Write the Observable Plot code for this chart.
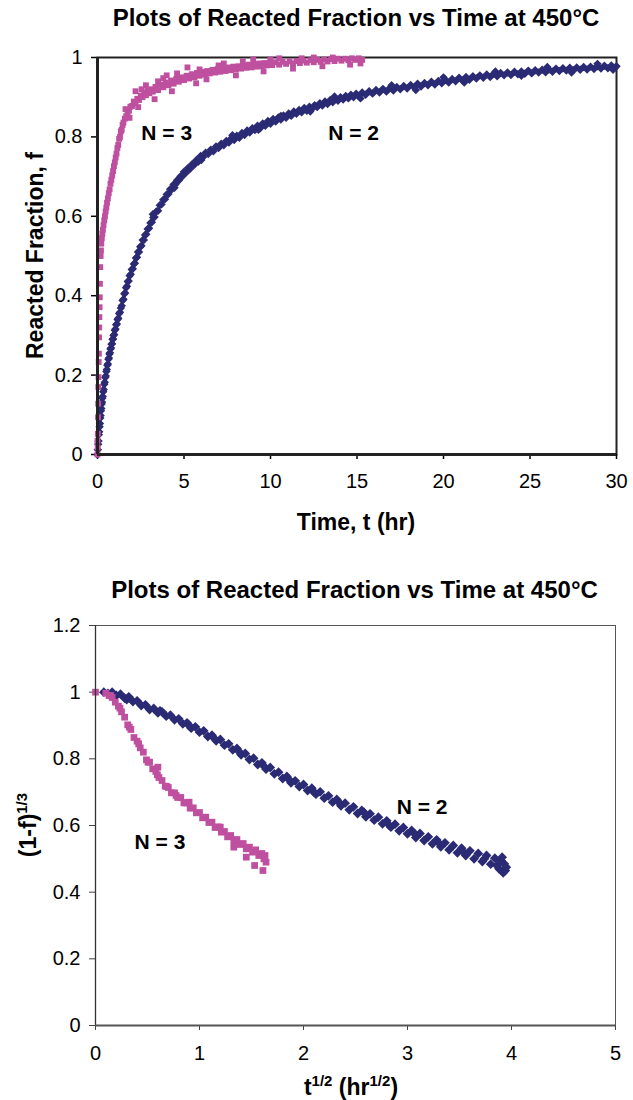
<!DOCTYPE html>
<html><head><meta charset="utf-8">
<script src="https://cdn.jsdelivr.net/npm/d3@7"></script>
<script src="https://cdn.jsdelivr.net/npm/@observablehq/plot@0.6"></script>
<style>
body{margin:0;background:#fff;font-family:Arial,"Liberation Sans",sans-serif;}
#wrap{width:633px;}
.title{font-weight:bold;font-size:24px;text-align:center;height:36px;line-height:36px;color:#000;box-sizing:border-box;width:633px;white-space:nowrap;}
svg{display:block;}
</style></head><body><div id="wrap"></div>
<script>
const titleText = "Plots of Reacted Fraction vs Time at 450°C";
const seriesNames = ["N = 2", "N = 3"];
const seriesColors = ["#2B2A74", "#BE509F"];

// Panel 1: f vs t (hr)
const xTicksTop = [0, 5, 10, 15, 20, 25, 30];
const yTicksTop = [0, 0.2, 0.4, 0.6, 0.8, 1];
const n2Top = [[0,0],[0.02,0.012],[0.04,0.026],[0.06,0.034],[0.08,0.05],[0.1,0.057],[0.12,0.07],[0.14,0.078],[0.16,0.092],[0.18,0.098],[0.2,0.11],[0.22,0.116],[0.24,0.127],[0.26,0.132],[0.28,0.142],[0.3,0.146],[0.33,0.158],[0.36,0.164],[0.39,0.177],[0.42,0.182],[0.45,0.194],[0.48,0.198],[0.51,0.209],[0.54,0.214],[0.57,0.225],[0.6,0.228],[0.63,0.24],[0.66,0.243],[0.69,0.253],[0.72,0.256],[0.75,0.266],[0.78,0.268],[0.81,0.278],[0.84,0.279],[0.87,0.29],[0.9,0.291],[0.93,0.3],[0.96,0.302],[1.0,0.313],[1.04,0.316],[1.08,0.327],[1.12,0.329],[1.16,0.34],[1.2,0.343],[1.25,0.355],[1.3,0.358],[1.35,0.369],[1.4,0.375],[1.45,0.388],[1.5,0.391],[1.55,0.405],[1.6,0.407],[1.65,0.42],[1.7,0.424],[1.75,0.436],[1.8,0.437],[1.86,0.45],[1.92,0.454],[1.98,0.466],[2.04,0.468],[2.1,0.48],[2.16,0.482],[2.22,0.495],[2.28,0.497],[2.34,0.51],[2.4,0.51],[2.47,0.523],[2.54,0.526],[2.61,0.54],[2.68,0.54],[2.75,0.553],[2.82,0.555],[2.9,0.568],[2.98,0.57],[3.06,0.583],[3.14,0.585],[3.22,0.597],[3.3,0.598],[3.4,0.612],[3.5,0.614],[3.6,0.628],[3.7,0.63],[3.8,0.642],[3.9,0.643],[4.0,0.655],[4.1,0.656],[4.2,0.668],[4.3,0.668],[4.4,0.68],[4.5,0.68],[4.6,0.691],[4.7,0.69],[4.8,0.701],[4.9,0.7],[5.0,0.712],[5.12,0.71],[5.24,0.722],[5.36,0.72],[5.48,0.732],[5.6,0.73],[5.72,0.742],[5.84,0.738],[5.96,0.752],[6.1,0.749],[6.25,0.76],[6.4,0.757],[6.55,0.768],[6.7,0.764],[6.85,0.776],[7.0,0.772],[7.15,0.783],[7.3,0.779],[7.45,0.79],[7.6,0.786],[7.75,0.797],[7.9,0.792],[8.05,0.803],[8.2,0.798],[8.35,0.81],[8.5,0.805],[8.65,0.816],[8.8,0.811],[8.95,0.822],[9.1,0.817],[9.25,0.828],[9.4,0.822],[9.55,0.834],[9.7,0.828],[9.85,0.84],[10.0,0.833],[10.15,0.845],[10.3,0.839],[10.45,0.849],[10.6,0.844],[10.75,0.854],[10.9,0.848],[11.05,0.859],[11.2,0.853],[11.35,0.864],[11.5,0.858],[11.65,0.868],[11.8,0.862],[11.95,0.873],[12.1,0.866],[12.25,0.876],[12.4,0.871],[12.55,0.88],[12.7,0.875],[12.85,0.885],[13.0,0.879],[13.15,0.889],[13.3,0.883],[13.45,0.893],[13.6,0.887],[13.75,0.896],[13.9,0.891],[14.05,0.9],[14.2,0.894],[14.35,0.903],[14.5,0.897],[14.65,0.906],[14.8,0.9],[14.95,0.909],[15.1,0.903],[15.3,0.912],[15.5,0.906],[15.7,0.915],[15.9,0.909],[16.1,0.918],[16.3,0.912],[16.5,0.921],[16.7,0.914],[16.9,0.923],[17.1,0.917],[17.3,0.926],[17.5,0.92],[17.7,0.928],[17.9,0.922],[18.1,0.931],[18.3,0.925],[18.5,0.934],[18.7,0.927],[18.9,0.936],[19.1,0.93],[19.3,0.939],[19.5,0.932],[19.7,0.941],[19.9,0.935],[20.1,0.944],[20.3,0.937],[20.5,0.946],[20.7,0.94],[20.9,0.949],[21.1,0.942],[21.3,0.951],[21.5,0.944],[21.7,0.953],[21.9,0.947],[22.1,0.955],[22.3,0.949],[22.5,0.957],[22.7,0.951],[22.9,0.959],[23.1,0.953],[23.3,0.961],[23.5,0.955],[23.7,0.962],[23.9,0.956],[24.1,0.964],[24.3,0.958],[24.5,0.965],[24.7,0.959],[24.9,0.967],[25.1,0.96],[25.3,0.968],[25.5,0.962],[25.7,0.969],[25.9,0.963],[26.1,0.97],[26.3,0.964],[26.5,0.972],[26.7,0.966],[26.9,0.973],[27.1,0.967],[27.3,0.974],[27.5,0.968],[27.7,0.975],[27.9,0.969],[28.1,0.976],[28.3,0.97],[28.5,0.977],[28.7,0.971],[28.9,0.978],[29.1,0.972],[29.3,0.979],[29.5,0.973],[29.7,0.98],[29.9,0.974],[30.0,0.978],
[3.2,0.605],[4.45,0.672],[6.0,0.742],[7.8,0.804],[9.3,0.818],[10.6,0.853],[12.3,0.864],[13.7,0.902],[15.2,0.897],[17.0,0.93],[18.4,0.918],[20.0,0.95],[21.2,0.937],[23.0,0.965],[24.5,0.954],[26.0,0.976],[27.4,0.962],[28.9,0.984],[29.8,0.969]];
const n3Top = [[0,0],[0.01,0.018],[0,0.035],[0.02,0.052],[0.03,0.094],[0.04,0.128],[0.05,0.17],[0.06,0.195],[0.07,0.233],[0.08,0.254],[0.09,0.295],[0.1,0.32],[0.11,0.346],[0.12,0.371],[0.13,0.396],[0.14,0.43],[0.16,0.472],[0.18,0.5],[0.2,0.514],[0.22,0.531],[0.25,0.545],[0.28,0.556],[0.31,0.566],[0.35,0.578],[0.39,0.59],[0.43,0.6],[0.47,0.612],[0.51,0.622],[0.55,0.634],[0.6,0.645],[0.65,0.658],[0.7,0.668],[0.75,0.682],[0.8,0.692],[0.85,0.703],[0.9,0.714],[0.95,0.726],[1.0,0.736],[1.05,0.748],[1.1,0.758],[1.15,0.772],[1.2,0.78],[1.25,0.795],[1.3,0.8],[1.35,0.814],[1.4,0.818],[1.45,0.83],[1.5,0.836],[1.58,0.846],[1.66,0.852],[1.74,0.862],[1.82,0.866],[1.9,0.876],[2.0,0.878],[2.1,0.889],[2.2,0.885],[2.3,0.896],[2.4,0.893],[2.5,0.904],[2.6,0.9],[2.7,0.911],[2.8,0.905],[2.9,0.916],[3.0,0.91],[3.1,0.92],[3.2,0.914],[3.35,0.926],[3.5,0.918],[3.65,0.932],[3.8,0.925],[3.95,0.937],[4.1,0.93],[4.25,0.942],[4.4,0.934],[4.55,0.946],[4.7,0.939],[4.85,0.95],[5.0,0.943],[5.15,0.954],[5.3,0.947],[5.45,0.958],[5.6,0.95],[5.75,0.961],[5.9,0.954],[6.05,0.964],[6.2,0.957],[6.35,0.966],[6.5,0.96],[6.65,0.969],[6.8,0.962],[6.95,0.971],[7.1,0.964],[7.25,0.973],[7.4,0.966],[7.55,0.975],[7.7,0.968],[7.85,0.977],[8.0,0.97],[8.15,0.978],[8.3,0.972],[8.45,0.98],[8.6,0.974],[8.75,0.982],[8.9,0.975],[9.05,0.983],[9.2,0.977],[9.35,0.985],[9.5,0.978],[9.65,0.986],[9.8,0.98],[9.95,0.987],[10.1,0.981],[10.3,0.988],[10.5,0.982],[10.7,0.989],[10.9,0.984],[11.1,0.99],[11.3,0.985],[11.5,0.991],[11.7,0.986],[11.9,0.992],[12.1,0.987],[12.3,0.993],[12.5,0.988],[12.7,0.994],[12.9,0.989],[13.1,0.995],[13.3,0.99],[13.5,0.996],[13.7,0.991],[13.9,0.997],[14.1,0.992],[14.3,0.997],[14.5,0.993],[14.7,0.998],[14.9,0.994],[15.1,0.998],[15.3,0.994],
[1.85,0.848],[2.35,0.875],[2.8,0.93],[3.3,0.895],[4.0,0.955],[4.3,0.915],[5.2,0.975],[5.7,0.935],[6.3,0.945],[7.3,0.985],[8.0,0.955],[9.0,0.995],[9.6,0.965],[10.5,0.998],[11.3,0.972],[12.5,1.0],[13.0,0.978],[14.6,0.982],[15.2,0.985],[2.2,0.915],[3.8,0.948],[1.62,0.87],[2.55,0.92],[3.5,0.94],[4.6,0.96],[5.9,0.97],[7.0,0.98],[8.4,0.99],[10.0,0.995],[11.8,0.998],[13.6,1.0]];
const labelTopX = [14.8, 4.0];
const labelTopY = [0.81, 0.81];

// Panel 2: (1-f)^(1/3) vs t^(1/2)
const xTicksBot = [0, 1, 2, 3, 4, 5];
const yTicksBot = [0, 0.2, 0.4, 0.6, 0.8, 1, 1.2];
const n2Bot = [[0.08,1.0],[0.12,0.996],[0.16,1.0],[0.2,0.99],[0.24,0.994],[0.28,0.982],[0.32,0.986],[0.36,0.972],[0.4,0.974],[0.44,0.96],[0.48,0.962],[0.52,0.948],[0.56,0.951],[0.6,0.938],[0.64,0.941],[0.68,0.928],[0.72,0.931],[0.76,0.917],[0.8,0.92],[0.84,0.905],[0.88,0.908],[0.92,0.892],[0.96,0.896],[1.0,0.88],[1.04,0.884],[1.08,0.867],[1.12,0.871],[1.16,0.854],[1.2,0.858],[1.24,0.841],[1.28,0.845],[1.32,0.827],[1.36,0.831],[1.4,0.812],[1.44,0.816],[1.48,0.798],[1.52,0.802],[1.56,0.783],[1.6,0.788],[1.64,0.769],[1.68,0.774],[1.72,0.755],[1.76,0.76],[1.8,0.741],[1.84,0.747],[1.88,0.728],[1.92,0.734],[1.96,0.717],[2.0,0.723],[2.04,0.705],[2.08,0.712],[2.12,0.694],[2.16,0.701],[2.2,0.682],[2.24,0.689],[2.28,0.67],[2.32,0.678],[2.36,0.659],[2.4,0.667],[2.44,0.647],[2.48,0.656],[2.52,0.636],[2.56,0.645],[2.6,0.626],[2.64,0.635],[2.68,0.616],[2.72,0.625],[2.76,0.605],[2.8,0.614],[2.84,0.595],[2.88,0.604],[2.92,0.584],[2.96,0.594],[3.0,0.575],[3.04,0.585],[3.08,0.564],[3.12,0.576],[3.16,0.555],[3.2,0.566],[3.24,0.545],[3.28,0.557],[3.32,0.536],[3.36,0.548],[3.4,0.527],[3.44,0.54],[3.48,0.518],[3.52,0.532],[3.56,0.51],[3.6,0.524],[3.64,0.5],[3.68,0.516],[3.72,0.492],[3.76,0.51],[3.8,0.484],[3.84,0.502],[3.88,0.47],[3.9,0.495],[3.92,0.458],[3.93,0.485],[3.94,0.465],[3.91,0.505],[3.86,0.48],[3.95,0.475],
[0.3,0.978],[0.62,0.944],[0.9,0.9],[1.14,0.862],[1.38,0.822],[1.62,0.778],[1.86,0.738],[2.1,0.7],[2.34,0.67],[2.58,0.64],[2.82,0.602],[3.06,0.578],[3.3,0.548],[3.54,0.52],[3.74,0.5]];
const n3Bot = [[0,1.0],[0.1,0.997],[0.13,0.99],[0.16,0.984],[0.19,0.97],[0.22,0.958],[0.25,0.941],[0.28,0.925],[0.31,0.902],[0.34,0.888],[0.37,0.864],[0.4,0.853],[0.43,0.833],[0.46,0.82],[0.49,0.797],[0.52,0.79],[0.55,0.77],[0.58,0.762],[0.61,0.744],[0.64,0.735],[0.67,0.718],[0.7,0.714],[0.73,0.698],[0.76,0.698],[0.79,0.684],[0.82,0.684],[0.85,0.668],[0.88,0.668],[0.91,0.652],[0.94,0.653],[0.97,0.638],[1.0,0.639],[1.03,0.623],[1.06,0.625],[1.09,0.609],[1.12,0.61],[1.15,0.594],[1.18,0.596],[1.21,0.58],[1.24,0.582],[1.27,0.566],[1.3,0.57],[1.33,0.554],[1.36,0.558],[1.39,0.543],[1.42,0.546],[1.45,0.53],[1.48,0.535],[1.51,0.52],[1.54,0.527],[1.57,0.51],[1.6,0.516],[1.62,0.5],[1.63,0.51],[1.64,0.49],
[1.33,0.535],[1.45,0.505],[1.53,0.48],[1.61,0.465],[0.9,0.67],[0.6,0.775],[1.2,0.595],[0.145,0.99],[0.235,0.952],[0.325,0.895],[0.415,0.845],[0.505,0.79],[0.595,0.752],[0.685,0.717],[0.775,0.69],[0.865,0.668]];
const labelBotX = [3.14, 0.62];
const labelBotY = [0.655, 0.55];

const font = "Arial, 'Liberation Sans', sans-serif";
const fmt = d => `${d}`;
const toObjs = arr => arr.map(([x, y]) => ({x, y}));
const labels = (xs, ys) => seriesNames.map((s, i) => ({s, x: xs[i], y: ys[i]}));

const wrap = document.getElementById("wrap");
function addTitle(padLeft, padTop) {
  const d = document.createElement("div");
  d.className = "title";
  d.style.paddingLeft = padLeft + "px";
  if (padTop) { d.style.height = (36 + padTop) + "px"; d.style.paddingTop = padTop + "px"; }
  d.textContent = titleText;
  wrap.appendChild(d);
}

addTitle(79, 0);
const p1 = Plot.plot({
  width: 633, height: 500,
  marginTop: 21, marginBottom: 82, marginLeft: 97, marginRight: 17,
  style: {fontFamily: font, fontSize: "20px", color: "#000", background: "#fff", overflow: "visible"},
  x: {domain: [0, 30]},
  y: {domain: [0, 1]},
  marks: [
    Plot.frame({stroke: "#222", strokeWidth: 2}),
    Plot.axisX({ticks: xTicksTop, tickFormat: fmt, tickSize: 5, tickPadding: 14, label: null, strokeWidth: 1.5}),
    Plot.axisY({ticks: yTicksTop, tickFormat: fmt, tickSize: 6, tickPadding: 9, label: null, strokeWidth: 1.5}),
    Plot.dot(toObjs(n2Top), {x: "x", y: "y", symbol: "diamond2", r: 3.8, fill: seriesColors[0], stroke: null}),
    Plot.dot(toObjs(n3Top), {x: "x", y: "y", symbol: "square", r: 3.3, fill: seriesColors[1], stroke: null}),
    Plot.ruleX([0], {stroke: "#222", strokeWidth: 3}),
    Plot.ruleY([0], {stroke: "#222", strokeWidth: 3}),
    Plot.text(labels(labelTopX, labelTopY), {x: "x", y: "y", text: "s", fontSize: 21, fontWeight: "bold", fill: "#000"})
  ]
});
wrap.appendChild(p1);
{
  const s = d3.select(p1);
  s.append("text").attr("x", 356).attr("y", 494).attr("text-anchor", "middle")
    .attr("font-weight", "bold").attr("font-size", 23).attr("fill", "#000").attr("font-family", font)
    .text("Time, t (hr)");
  s.append("text").attr("transform", "translate(43,219.5) rotate(-90)").attr("text-anchor", "middle")
    .attr("font-weight", "bold").attr("font-size", 23).attr("fill", "#000").attr("font-family", font)
    .text("Reacted Fraction, f");
}

addTitle(76, 36);
const p2 = Plot.plot({
  width: 633, height: 492,
  marginTop: 17, marginBottom: 75, marginLeft: 95, marginRight: 18,
  style: {fontFamily: font, fontSize: "20px", color: "#000", background: "#fff", overflow: "visible"},
  x: {domain: [0, 5]},
  y: {domain: [0, 1.2]},
  marks: [
    Plot.frame({stroke: "#555", strokeWidth: 1}),
    Plot.axisX({ticks: xTicksBot, tickFormat: fmt, tickSize: 5, tickPadding: 15, label: null, stroke: "#444"}),
    Plot.axisY({ticks: yTicksBot, tickFormat: fmt, tickSize: 6, tickPadding: 9, label: null, stroke: "#444"}),
    Plot.dot(toObjs(n2Bot), {x: "x", y: "y", symbol: "diamond2", r: 4.4, fill: seriesColors[0], stroke: null}),
    Plot.dot(toObjs(n3Bot), {x: "x", y: "y", symbol: "square", r: 3.8, fill: seriesColors[1], stroke: null}),
    Plot.ruleX([0], {stroke: "#333", strokeWidth: 1.3}),
    Plot.ruleY([0], {stroke: "#555", strokeWidth: 2}),
    Plot.text(labels(labelBotX, labelBotY), {x: "x", y: "y", text: "s", fontSize: 21, fontWeight: "bold", fill: "#000"})
  ]
});
wrap.appendChild(p2);
{
  const s = d3.select(p2);
  const xl = s.append("text").attr("x", 351).attr("y", 487).attr("text-anchor", "middle")
    .attr("font-weight", "bold").attr("font-size", 23).attr("fill", "#000").attr("font-family", font);
  xl.append("tspan").text("t");
  xl.append("tspan").attr("dy", -9).attr("font-size", 15).text("1/2");
  xl.append("tspan").attr("dy", 9).text(" (hr");
  xl.append("tspan").attr("dy", -9).attr("font-size", 15).text("1/2");
  xl.append("tspan").attr("dy", 9).text(")");
  const yl = s.append("text").attr("transform", "translate(36,217) rotate(-90)").attr("text-anchor", "middle")
    .attr("font-weight", "bold").attr("font-size", 23).attr("fill", "#000").attr("font-family", font);
  yl.append("tspan").text("(1-f)");
  yl.append("tspan").attr("dy", -9).attr("font-size", 15).text("1/3");
}
</script></body></html>
